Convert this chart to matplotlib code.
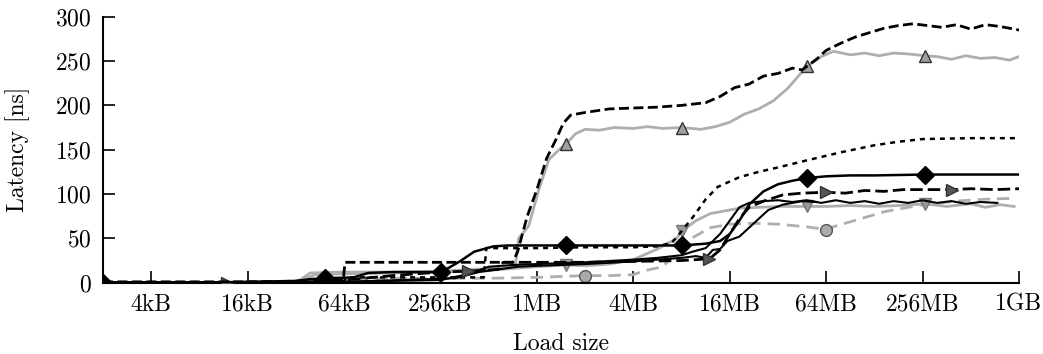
import numpy as np
import matplotlib
matplotlib.use('Agg')
import matplotlib.pyplot as plt

plt.rcParams['font.family'] = ['cmr10', 'DejaVu Serif']
plt.rcParams['axes.formatter.use_mathtext'] = True
plt.rcParams['mathtext.fontset'] = 'cm'

# ---- data (x given as log2 of load size in bytes) ----
tick_exp = [12, 14, 16, 18, 20, 22, 24, 26, 28, 30]
tick_labels = ['4kB', '16kB', '64kB', '256kB', '1MB', '4MB', '16MB', '64MB', '256MB', '1GB']
y_ticks = [0, 50, 100, 150, 200, 250, 300]

# black dashed (top)
s1_x = [11, 15.98, 16.02, 19.5, 19.6, 19.8, 20.0, 20.2, 20.4, 20.55, 20.7, 21.0, 21.5, 22.0, 22.5,
        23.0, 23.5, 23.8, 24.1, 24.4, 24.7, 25.0, 25.3, 25.5, 25.8, 26.0, 26.3, 26.6, 26.9, 27.2,
        27.5, 27.8, 28.1, 28.4, 28.7, 29.0, 29.3, 29.6, 30]
s1_y = [1, 1, 23, 23, 35, 75, 105, 140, 162, 180, 189, 192, 196, 197, 198,
        200, 203, 210, 220, 224, 233, 236, 242, 240, 252, 262, 270, 277, 282, 287,
        290, 292, 290, 288, 291, 286, 291, 289, 285]

# gray solid, up triangles
s2_x = [11, 15.0, 15.3, 16, 17, 18, 19, 19.55, 19.62, 19.83, 20.04, 20.25, 20.46, 20.6, 20.8, 21.0,
        21.3, 21.6, 22.0, 22.3, 22.6, 23.0, 23.4, 23.7, 24.0, 24.3, 24.6, 24.9, 25.2, 25.6, 25.9,
        26.15, 26.5, 26.8, 27.1, 27.4, 27.7, 28.05, 28.3, 28.6, 28.9, 29.2, 29.5, 29.8, 30]
s2_y = [0, 0, 11, 12, 12, 13, 16, 18, 50, 64, 105, 139, 150, 156, 168, 173,
        172, 175, 174, 176, 174, 175, 173, 176, 181, 190, 196, 205, 219, 244, 255,
        261, 257, 259, 256, 259, 258, 256, 255, 252, 256, 253, 254, 251, 255]
s2_m = [20.6, 23.0, 25.6, 28.05]

# black solid, diamonds
s3_x = [11, 13, 15.0, 15.3, 15.6, 16.2, 16.5, 17, 18.02, 18.4, 18.7, 19.1, 19.4, 20, 20.6, 21.5, 22.5,
        23.0, 23.5, 23.8, 24.0, 24.2, 24.4, 24.7, 25.0, 25.3, 25.6, 26.0, 26.5, 27, 28.05, 29, 30]
s3_y = [0, 0, 2, 4, 5, 6, 11, 12, 12, 24, 35, 41, 42, 42, 42, 42, 42,
        42, 44, 47, 55, 70, 88, 103, 111, 115, 118, 120, 121, 121, 122, 122, 122]
s3_m = [11, 15.6, 18.02, 20.6, 23.0, 25.6, 28.05]

# gray solid, down triangles
s4_x = [11, 15.0, 15.4, 16, 17, 18, 19, 19.5, 20, 20.6, 21, 21.5, 22, 22.5, 22.9, 23.0, 23.3,
        23.6, 24.2, 25.0, 25.6, 26, 26.5, 27, 27.5, 28.05, 28.5, 29, 29.3, 29.6, 29.9]
s4_y = [0, 0, 9, 10, 11, 12, 14, 16, 18, 20, 19, 21, 26, 38, 50, 58, 70,
        78, 84, 86, 86, 86, 87, 86, 87, 89, 86, 89, 85, 88, 86]
s4_m = [20.6, 23.0, 25.6, 28.05]

# black dotted
s5_x = [11, 15.98, 16.05, 18.9, 18.95, 20, 21, 22, 22.5, 22.8, 23.0, 23.25, 23.5, 23.75, 24.2,
        24.6, 25.0, 25.6, 26.3, 27.0, 27.5, 28.0, 29, 30]
s5_y = [0, 0, 6, 6, 39, 39, 40, 40, 41, 45, 58, 75, 94, 108, 119,
        125, 130, 138, 147, 155, 159, 162, 163, 163]

# black thin solid (jagged) #1
s6_x = [11, 16, 18, 18.6, 19.0, 19.5, 20, 21, 22, 22.5, 23.0, 23.23, 23.5, 23.8, 24.0, 24.2, 24.4,
        24.7, 25.0, 25.3, 25.6, 25.9, 26.2, 26.5, 26.8, 27.1, 27.4, 27.7, 28.0, 28.3, 28.6, 28.9,
        29.2, 29.55]
s6_y = [0, 1, 3, 10, 18, 20, 21, 23, 26, 28, 31, 35, 39, 55, 70, 85, 90,
        92, 93, 91, 93, 90, 93, 90, 92, 89, 92, 90, 93, 90, 92, 89,
        91, 90]

# black thin solid (jagged) #2
s7_x = [11, 16, 18.3, 18.8, 19.2, 19.6, 20, 21, 22, 22.5, 23.0, 23.3, 23.5, 23.65, 23.8, 23.95,
        24.2, 24.4, 24.6, 24.8, 25.1, 25.5, 25.8]
s7_y = [0, 1, 5, 12, 15, 18, 19, 21, 24, 26, 28, 30, 28, 37, 38, 47,
        52, 62, 72, 82, 88, 92, 91]

# black dashed, right triangles
s8_x = [11, 13.58, 16, 17, 18.0, 18.58, 19.2, 19.3, 20, 21, 22, 23, 23.3, 23.58, 23.8, 24.0,
        24.2, 24.4, 24.7, 25.1, 25.5, 26.0, 26.4, 26.8, 27.2, 27.6, 28.0, 28.6, 29, 29.5, 30]
s8_y = [0, 0, 3, 8, 12, 13, 15, 23, 23, 23, 24, 25, 26, 27, 37, 55,
        72, 85, 92, 99, 101, 102, 101, 104, 103, 105, 105, 105, 106, 105, 106]
s8_m = [13.58, 18.58, 23.58, 26.0, 28.6]

# gray dashed, circles
s9_x = [11, 15.5, 16, 17, 18, 19, 20, 21.0, 21.5, 22.0, 22.2, 22.6, 22.9, 23.2, 23.6, 24.0, 24.5,
        25.0, 25.6, 26.0, 26.2, 26.65, 27.2, 27.9, 28.7, 29.25, 29.8]
s9_y = [0, 0, 3, 5, 5, 5, 6, 8, 8, 9, 13, 18, 33, 50, 62, 66, 67,
        66, 63, 60, 64, 71, 80, 87, 92, 94, 95]
s9_m = [21.0, 26.0]

# ---- plotting ----
fig = plt.figure(figsize=(10.43, 3.54), dpi=100)
ax = fig.add_axes([103 / 1043, 1 - 282.7 / 354, (1019 - 103) / 1043, (282.7 - 16.7) / 354])

GRAY = '#aeaeae'


def idx(xs, ms):
    return [xs.index(m) for m in ms]


def draw(xs, ys, **kw):
    ax.plot(2.0 ** np.array(xs), ys, **kw)


draw(s9_x, s9_y, color=GRAY, lw=2.0, dashes=(4.5, 2.5), marker='o', ms=8.5,
     mfc='#aaaaaa', mec='#555555', mew=1.0, markevery=idx(s9_x, s9_m), zorder=2)
draw(s4_x, s4_y, color=GRAY, lw=2.0, marker='v', ms=9,
     mfc='#999999', mec='#777777', mew=1.0, markevery=idx(s4_x, s4_m), zorder=2)
draw(s2_x, s2_y, color=GRAY, lw=2.0, marker='^', ms=9,
     mfc='#a0a0a0', mec='#333333', mew=1.0, markevery=idx(s2_x, s2_m), zorder=2)
draw(s6_x, s6_y, color='black', lw=1.5, zorder=3)
draw(s7_x, s7_y, color='black', lw=1.5, zorder=3)
draw(s5_x, s5_y, color='black', lw=1.8, dashes=(2.0, 2.0), zorder=3)
draw(s8_x, s8_y, color='black', lw=2.0, dashes=(4.5, 1.8), marker='>', ms=9,
     mfc='#555555', mec='#333333', mew=1.0, markevery=idx(s8_x, s8_m), zorder=3)
draw(s1_x, s1_y, color='black', lw=2.0, dashes=(3.6, 1.6), zorder=3)
draw(s3_x, s3_y, color='black', lw=1.8, marker='D', ms=9,
     mfc='black', mec='black', markevery=idx(s3_x, s3_m), zorder=4)

ax.set_xscale('log', base=2)
ax.set_xlim(2.0 ** 11, 2.0 ** 30)
ax.set_ylim(0, 300)
ax.set_xticks([2.0 ** e for e in tick_exp])
ax.set_xticklabels(tick_labels)
ax.set_yticks(y_ticks)
ax.minorticks_off()

for s in ['top', 'right']:
    ax.spines[s].set_visible(False)
for s in ['left', 'bottom']:
    ax.spines[s].set_linewidth(1.5)

ax.tick_params(direction='in', length=8.5, width=1.2, labelsize=17, pad=8)
ax.tick_params(axis='y', pad=8)
ax.set_xlabel('Load size', fontsize=17, labelpad=12)
ax.set_ylabel('Latency [ns]', fontsize=17, labelpad=18)

fig.savefig('out.png', dpi=100)
